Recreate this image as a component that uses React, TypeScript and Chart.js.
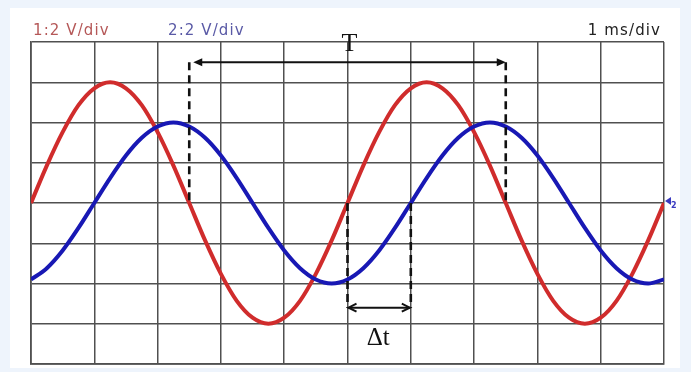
import { useEffect, useRef } from "react";
import { Chart, registerables } from "chart.js";

Chart.register(...registerables);

// Time axis in divisions (1 ms/div), sampled every quarter division
const timeDiv = [
  0, 0.25, 0.5, 0.75, 1, 1.25, 1.5, 1.75, 2, 2.25, 2.5, 2.75, 3, 3.25, 3.5, 3.75, 4, 4.25, 4.5, 4.75,
  5, 5.25, 5.5, 5.75, 6, 6.25, 6.5, 6.75, 7, 7.25, 7.5, 7.75, 8, 8.25, 8.5, 8.75, 9, 9.25, 9.5, 9.75, 10,
];

// Channel 1 trace, vertical divisions (2 V/div)
const ch1Div = [
  0, 0.93, 1.76, 2.43, 2.85, 3, 2.85, 2.43, 1.76, 0.93, 0, -0.93, -1.76, -2.43, -2.85, -3, -2.85, -2.43, -1.76, -0.93,
  0, 0.93, 1.76, 2.43, 2.85, 3, 2.85, 2.43, 1.76, 0.93, 0, -0.93, -1.76, -2.43, -2.85, -3, -2.85, -2.43, -1.76, -0.93, 0,
];

// Channel 2 trace, vertical divisions (2 V/div)
const ch2Div = [
  -1.9, -1.62, -1.18, -0.62, 0, 0.62, 1.18, 1.62, 1.9, 2, 1.9, 1.62, 1.18, 0.62, 0, -0.62, -1.18, -1.62, -1.9, -2,
  -1.9, -1.62, -1.18, -0.62, 0, 0.62, 1.18, 1.62, 1.9, 2, 1.9, 1.62, 1.18, 0.62, 0, -0.62, -1.18, -1.62, -1.9, -2, -1.9,
];

// Period marker: two falling zero crossings of channel 1
const periodMarks = [2.5, 7.5];
const periodArrowLevel = 3.5;
const periodLabel = "T";

// Delay marker: rising zero crossings of channel 1 and channel 2
const delayMarks = [5, 6];
const delayArrowLevel = -2.6;
const delayLabel = "Δt";

const ch1Label = "1:2 V/div";
const ch2Label = "2:2 V/div";
const timebaseLabel = "1 ms/div";

const RED = "#d02c2c";
const BLUE = "#1818b4";

function openHead(ctx: CanvasRenderingContext2D, x: number, y: number, dir: number) {
  ctx.beginPath();
  ctx.moveTo(x + dir * -8, y - 4);
  ctx.lineTo(x, y);
  ctx.lineTo(x + dir * -8, y + 4);
  ctx.stroke();
}

function filledHead(ctx: CanvasRenderingContext2D, x: number, y: number, dir: number) {
  ctx.beginPath();
  ctx.moveTo(x, y);
  ctx.lineTo(x + dir * -9, y - 4);
  ctx.lineTo(x + dir * -9, y + 4);
  ctx.closePath();
  ctx.fill();
}

const scopeOverlay = {
  id: "scopeOverlay",
  afterDatasetsDraw(chart: any) {
    const { ctx, scales } = chart;
    const xs = scales.x;
    const ys = scales.y;
    const area = chart.chartArea;
    ctx.save();

    // dashed markers
    ctx.strokeStyle = "#111";
    ctx.fillStyle = "#111";
    ctx.lineWidth = 2.6;
    ctx.setLineDash([8, 5]);
    const y0 = ys.getPixelForValue(0);
    const yT = ys.getPixelForValue(periodArrowLevel);
    const yD = ys.getPixelForValue(delayArrowLevel);
    for (const m of periodMarks) {
      const px = xs.getPixelForValue(m);
      ctx.beginPath();
      ctx.moveTo(px, yT);
      ctx.lineTo(px, y0);
      ctx.stroke();
    }
    for (const m of delayMarks) {
      const px = xs.getPixelForValue(m);
      ctx.beginPath();
      ctx.moveTo(px, y0);
      ctx.lineTo(px, yD);
      ctx.stroke();
    }
    ctx.setLineDash([]);

    // arrows
    ctx.lineWidth = 2;
    const tx1 = xs.getPixelForValue(periodMarks[0]) + 4;
    const tx2 = xs.getPixelForValue(periodMarks[1]);
    ctx.beginPath();
    ctx.moveTo(tx1 + 4, yT);
    ctx.lineTo(tx2 - 4, yT);
    ctx.stroke();
    filledHead(ctx, tx1, yT, -1);
    filledHead(ctx, tx2, yT, 1);

    const dx1 = xs.getPixelForValue(delayMarks[0]) + 1;
    const dx2 = xs.getPixelForValue(delayMarks[1]) - 1;
    ctx.beginPath();
    ctx.moveTo(dx1, yD);
    ctx.lineTo(dx2, yD);
    ctx.stroke();
    openHead(ctx, dx1, yD, -1);
    openHead(ctx, dx2, yD, 1);

    // labels for markers
    ctx.font = "26px 'Liberation Serif'";
    ctx.textAlign = "center";
    ctx.textBaseline = "alphabetic";
    ctx.fillText(periodLabel, (tx1 + tx2) / 2, area.top + 9);
    ctx.font = "25px 'Liberation Serif'";
    ctx.fillText(delayLabel, (dx1 + dx2) / 2 - 1, yD + 37);

    // header labels
    ctx.font = "15px 'DejaVu Sans'";
    (ctx as any).letterSpacing = "1.1px";
    ctx.textAlign = "left";
    ctx.fillStyle = "#b55858";
    ctx.fillText(ch1Label, 33, 35);
    ctx.fillStyle = "#5a5aa6";
    ctx.fillText(ch2Label, 168, 35);
    ctx.textAlign = "right";
    ctx.fillStyle = "#222";
    ctx.fillText(timebaseLabel, 661, 35);
    (ctx as any).letterSpacing = "0px";

    // channel 2 ground marker
    const gy = ys.getPixelForValue(0) - 2;
    const gx = area.right + 1;
    ctx.fillStyle = "#3a3ac0";
    ctx.beginPath();
    ctx.moveTo(gx, gy);
    ctx.lineTo(gx + 6, gy - 4);
    ctx.lineTo(gx + 6, gy + 4);
    ctx.closePath();
    ctx.fill();
    ctx.font = "bold 8px 'DejaVu Sans'";
    ctx.textAlign = "left";
    ctx.fillText("2", gx + 6, gy + 7);

    ctx.restore();
  },
};

export default function App() {
  const canvasRef = useRef<HTMLCanvasElement | null>(null);

  useEffect(() => {
    if (!canvasRef.current) return;
    const chart = new Chart(canvasRef.current, {
      type: "line",
      data: {
        datasets: [
          {
            label: ch2Label,
            data: timeDiv.map((t, i) => ({ x: t, y: ch2Div[i] })),
            borderColor: BLUE,
            borderWidth: 4,
            pointRadius: 0,
            cubicInterpolationMode: "monotone",
          },
          {
            label: ch1Label,
            data: timeDiv.map((t, i) => ({ x: t, y: ch1Div[i] })),
            borderColor: RED,
            borderWidth: 4,
            pointRadius: 0,
            cubicInterpolationMode: "monotone",
          },
        ],
      },
      options: {
        responsive: false,
        animation: false,
        layout: { padding: { left: 31, right: 27, top: 42, bottom: 8 } },
        plugins: { legend: { display: false }, tooltip: { enabled: false } },
        scales: {
          x: {
            type: "linear",
            min: 0,
            max: 10,
            ticks: { stepSize: 1, display: false },
            grid: { color: "#505050", lineWidth: 1.5, drawTicks: false },
            border: { color: "#505050", width: 1.7 },
          },
          y: {
            type: "linear",
            min: -4,
            max: 4,
            ticks: { stepSize: 1, display: false },
            grid: { color: "#505050", lineWidth: 1.5, drawTicks: false },
            border: { color: "#505050", width: 1.7 },
          },
        },
      },
      plugins: [scopeOverlay],
    });
    return () => chart.destroy();
  }, []);

  return (
    <div
      style={{
        position: "fixed",
        left: 0,
        top: 0,
        width: 691,
        height: 372,
        background: "#eef4fc",
      }}
    >
      <div
        style={{
          position: "absolute",
          left: 10,
          top: 8,
          width: 670,
          height: 360,
          background: "#ffffff",
        }}
      />
      <canvas
        ref={canvasRef}
        width={691}
        height={372}
        style={{ position: "absolute", left: 0, top: 0 }}
      />
    </div>
  );
}
